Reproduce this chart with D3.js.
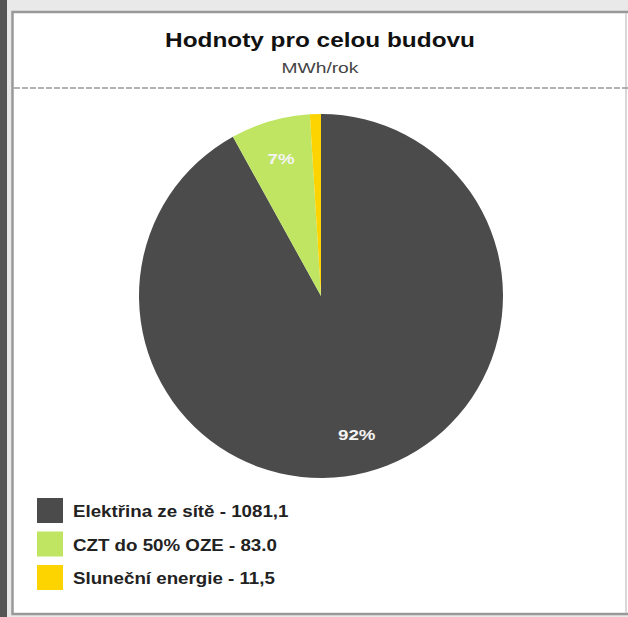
<!DOCTYPE html>
<html>
<head>
<meta charset="utf-8">
<title>Hodnoty pro celou budovu</title>
<script src="https://cdn.jsdelivr.net/npm/d3@7"></script>
<style>
	body { margin: 0; background: #e9e9e9; }
	svg { display: block; }
</style>
</head>
<body>
<svg width="628" height="617"></svg>
<script>
	// data
	const labels = ["Elektřina ze sítě", "CZT do 50% OZE", "Sluneční energie"]
	const values = [1081.1, 83.0, 11.5]
	const valueText = ["1081,1", "83.0", "11,5"]
	const colors = ["#4b4b4b", "#bfe563", "#fdd400"]

	const svg = d3.select("svg")
	const font = "'Liberation Sans', Arial, sans-serif"

	// the original font is drawn a bit wider, stretch text horizontally
	function stretch(sel, k) {
		sel.each(function() {
			const w = this.getComputedTextLength()
			d3.select(this).attr("textLength", w * k).attr("lengthAdjust", "spacingAndGlyphs")
		})
	}

	// frame
	svg.append("rect").attr("x", 0).attr("y", 0).attr("width", 7).attr("height", 617).attr("fill", "#555")
	svg.append("rect").attr("x", 12.5).attr("y", 12).attr("width", 640).attr("height", 602)
		.attr("fill", "#fff").attr("stroke", "#999").attr("stroke-width", 2.5)
	svg.append("line").attr("x1", 626).attr("x2", 626).attr("y1", 13).attr("y2", 613)
		.attr("stroke", "#ccc").attr("stroke-width", 1.5)

	// title
	svg.append("text").attr("x", 320).attr("y", 47).attr("text-anchor", "middle")
		.attr("font-family", font).attr("font-weight", "bold").attr("font-size", 21).attr("fill", "#111")
		.text("Hodnoty pro celou budovu")
		.call(stretch, 1.16)
	svg.append("text").attr("x", 320).attr("y", 73).attr("text-anchor", "middle")
		.attr("font-family", font).attr("font-size", 15).attr("fill", "#444")
		.text("MWh/rok")
		.call(stretch, 1.28)
	svg.append("line").attr("x1", 14).attr("x2", 628).attr("y1", 88).attr("y2", 88)
		.attr("stroke", "#999").attr("stroke-width", 1.5).attr("stroke-dasharray", "6,2")

	// pie
	const R = 182
	const cx = 321, cy = 296
	const pie = d3.pie().sort(null).value(d => d)
	const arcs = pie(values)
	const arc = d3.arc().innerRadius(0).outerRadius(R)
	const labelArc = d3.arc().innerRadius(143).outerRadius(143)
	const total = d3.sum(values)
	const g = svg.append("g").attr("transform", `translate(${cx},${cy})`)
	g.selectAll("path").data(arcs).enter().append("path")
		.attr("d", arc).attr("fill", (d, i) => colors[i])
	g.selectAll("text").data(arcs.filter(d => d.value / total > 0.05)).enter().append("text")
		.attr("transform", d => `translate(${labelArc.centroid(d)})`)
		.attr("text-anchor", "middle").attr("dy", "0.35em")
		.attr("font-family", font).attr("font-weight", "bold").attr("font-size", 15).attr("fill", "#f4f4f4")
		.text(d => Math.round(d.value / total * 100) + "%")
		.call(stretch, 1.25)

	// legend
	const leg = svg.append("g").attr("transform", "translate(37,498)")
	const rows = leg.selectAll("g").data(labels).enter().append("g")
		.attr("transform", (d, i) => `translate(0,${i * 33.5})`)
	rows.append("rect").attr("width", 26).attr("height", 25).attr("fill", (d, i) => colors[i])
	rows.append("text").attr("x", 36).attr("y", 19)
		.attr("font-family", font).attr("font-weight", "bold").attr("font-size", 16).attr("fill", "#222")
		.text((d, i) => d + " - " + valueText[i])
		.call(stretch, 1.17)
</script>
</body>
</html>
